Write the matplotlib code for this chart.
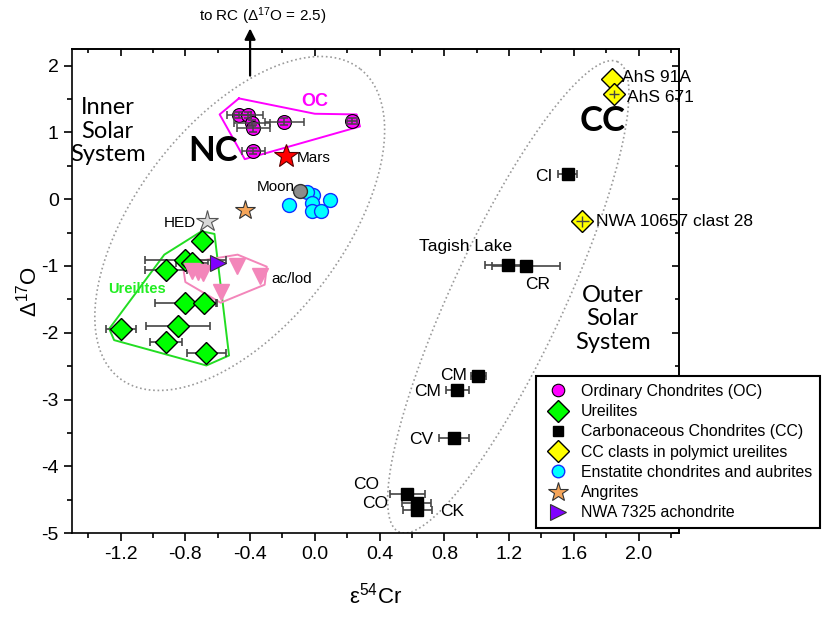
import numpy as np
import matplotlib
matplotlib.use('Agg')
import matplotlib.pyplot as plt
from matplotlib.lines import Line2D

plt.rcParams['font.family'] = ['Liberation Sans', 'DejaVu Sans']
plt.rcParams['mathtext.fontset'] = 'custom'
plt.rcParams['mathtext.rm'] = 'Liberation Sans'
plt.rcParams['mathtext.it'] = 'Liberation Sans:italic'
plt.rcParams['mathtext.bf'] = 'Liberation Sans:bold'
plt.rcParams['axes.unicode_minus'] = False

# ---------------- data ----------------
oc_x = [-0.47, -0.41, -0.39, -0.38, -0.19, 0.23, -0.38]
oc_y = [1.26, 1.26, 1.14, 1.06, 1.16, 1.17, 0.72]
oc_xerr = [0.075, 0.09, 0.11, 0.10, 0.12, 0.03, 0.07]
oc_yerr = [0.05, 0.05, 0.05, 0.05, 0.05, 0.05, 0.05]

ure_x = [-0.70, -0.80, -0.92, -0.76, -0.80, -0.687, -1.197, -0.846, -0.918, -0.67]
ure_y = [-0.63, -0.91, -1.06, -0.96, -1.56, -1.56, -1.94, -1.90, -2.14, -2.31]
ure_xerr = [0.0, 0.25, 0.13, 0.10, 0.19, 0.08, 0.095, 0.20, 0.10, 0.12]

cc_names = ['CI', 'Tagish Lake', 'CR', 'CM', 'CM', 'CV', 'CO', 'CO', 'CK']
cc_x = [1.562, 1.193, 1.305, 1.011, 0.881, 0.861, 0.572, 0.63, 0.634]
cc_y = [0.38, -0.98, -1.00, -2.64, -2.85, -3.58, -4.41, -4.55, -4.65]
cc_xerr = [0.057, 0.14, 0.21, 0.046, 0.072, 0.092, 0.11, 0.09, 0.09]

clast_names = ['AhS 91A', 'AhS 671', 'NWA 10657 clast 28']
clast_x = [1.837, 1.847, 1.651]
clast_y = [1.80, 1.575, -0.33]
clast_xerr = [0.0, 0.03, 0.04]
clast_yerr = [0.0, 0.06, 0.08]

ec_x = [-0.01, -0.05, -0.02, 0.093, -0.16, -0.02, 0.04]
ec_y = [0.06, 0.11, -0.06, -0.01, -0.09, -0.17, -0.17]

ang_x = [-0.43]
ang_y = [-0.16]

nwa_x = [-0.60]
nwa_y = [-0.95]

aclod_x = [-0.76, -0.72, -0.69, -0.48, -0.34, -0.58]
aclod_y = [-1.08, -1.09, -1.10, -1.00, -1.15, -1.39]

mars_xy = (-0.18, 0.64)
moon_xy = (-0.093, 0.13)
hed_xy = (-0.667, -0.32)

oc_poly = [(-0.469, 1.51), (0.0, 1.28), (0.258, 1.27), (0.279, 1.09), (-0.433, 0.60), (-0.588, 1.27)]
ure_poly = [(-0.70, -0.48), (-0.62, -0.52), (-0.53, -2.34), (-0.67, -2.49), (-1.24, -2.11), (-1.27, -1.94), (-0.93, -0.83)]
aclod_poly = [(-0.817, -0.965), (-0.477, -0.83), (-0.297, -1.01), (-0.31, -1.28), (-0.582, -1.55), (-0.80, -1.24)]

legend_labels = ['Ordinary Chondrites (OC)', 'Ureilites', 'Carbonaceous Chondrites (CC)',
                 'CC clasts in polymict ureilites', 'Enstatite chondrites and aubrites',
                 'Angrites', 'NWA 7325 achondrite']

# ---------------- colors ----------------
C_OC = '#FF00FF'
C_URE = '#00FF00'
C_CLAST = '#FFFF00'
C_EC = '#00FFFF'
C_ANG = '#F5A55A'
C_NWA = '#8000FF'
C_PINK = '#F386BA'
C_ERR = '#444444'

fig = plt.figure(figsize=(8.26, 6.17), dpi=100)
ax = fig.add_axes([0.0872, 0.136, 0.7349, 0.7846])
ax.set_xlim(-1.5, 2.25)
ax.set_ylim(-5, 2.25)


def ellipse(c, u, v):
    t = np.linspace(0, 2 * np.pi, 400)
    return (c[0] + u[0] * np.cos(t) + v[0] * np.sin(t),
            c[1] + u[1] * np.cos(t) + v[1] * np.sin(t))

ex, ey = ellipse((-0.464, -0.363), (0.744, 2.315), (-0.498, 0.946))
ax.plot(ex, ey, ls=':', color='#9a9a9a', lw=1.2, zorder=1)
ex, ey = ellipse((1.195, -1.462), (0.676, 3.52), (-0.314, 0.357))
ax.plot(ex, ey, ls=':', color='#9a9a9a', lw=1.2, zorder=1)

# polygons
for poly, col in [(oc_poly, C_OC), (ure_poly, '#22DD22'), (aclod_poly, C_PINK)]:
    px = [p[0] for p in poly] + [poly[0][0]]
    py = [p[1] for p in poly] + [poly[0][1]]
    ax.plot(px, py, color=col, lw=1.4, zorder=2)

# ureilites
ax.errorbar(ure_x, ure_y, xerr=ure_xerr, fmt='none', ecolor=C_ERR, elinewidth=1.2,
            capsize=3, capthick=1.2, zorder=3)
ax.plot(ure_x, ure_y, 'D', ms=11.5, mfc=C_URE, mec='k', mew=1.0, ls='none', zorder=4)

# ac/lod
ax.plot(aclod_x, aclod_y, 'v', ms=11.5, mfc=C_PINK, mec=C_PINK, ls='none', zorder=5)

# NWA 7325
ax.plot(nwa_x, nwa_y, '>', ms=11, mfc=C_NWA, mec='#333333', mew=0.8, ls='none', zorder=5)

# OC
ax.plot(oc_x, oc_y, 'o', ms=10, mfc=C_OC, mec='k', mew=0.8, ls='none', zorder=4)
ax.errorbar(oc_x, oc_y, xerr=oc_xerr, yerr=oc_yerr, fmt='none', ecolor=C_ERR,
            elinewidth=1.1, capsize=3, capthick=1.1, zorder=5)

# Enstatite chondrites
ax.plot(ec_x, ec_y, 'o', ms=10, mfc=C_EC, mec='#1030FF', mew=1.0, ls='none', zorder=4)
ax.plot([moon_xy[0]], [moon_xy[1]], 'o', ms=10, mfc='#8c8c8c', mec='#333333', mew=1.0, zorder=5)

# stars
ax.plot([mars_xy[0]], [mars_xy[1]], '*', ms=18, mfc='#FF0000', mec='#550000', mew=0.8, zorder=5)
ax.plot(ang_x, ang_y, '*', ms=15, mfc=C_ANG, mec='#333333', mew=0.8, ls='none', zorder=5)
ax.plot([hed_xy[0]], [hed_xy[1]], '*', ms=16, mfc='#D8D8D8', mec='#555555', mew=0.8, zorder=5)

# CC
ax.errorbar(cc_x, cc_y, xerr=cc_xerr, fmt='none', ecolor=C_ERR, elinewidth=1.2,
            capsize=3, capthick=1.2, zorder=3)
ax.plot(cc_x, cc_y, 's', ms=8, mfc='k', mec='k', ls='none', zorder=4)

# clasts
ax.plot(clast_x, clast_y, 'D', ms=11.5, mfc=C_CLAST, mec='k', mew=1.0, ls='none', zorder=4)
ax.errorbar(clast_x, clast_y, xerr=clast_xerr, yerr=clast_yerr, fmt='none', ecolor=C_ERR,
            elinewidth=1.0, capsize=0, zorder=5)

# ---------------- labels ----------------
ax.text(-1.28, 1.02, 'Inner\nSolar\nSystem', family=['Lato', 'DejaVu Sans'], fontsize=17,
        ha='center', va='center', linespacing=1.15)
ax.text(1.84, -1.79, 'Outer\nSolar\nSystem', family=['Lato', 'DejaVu Sans'], fontsize=17,
        ha='center', va='center', linespacing=1.15)
ax.text(-0.63, 0.72, 'NC', family=['Lato', 'DejaVu Sans'], fontweight='bold', fontsize=25,
        ha='center', va='center')
ax.text(1.777, 1.17, 'CC', family=['Lato', 'DejaVu Sans'], fontweight='bold', fontsize=25,
        ha='center', va='center')
ax.text(0.0, 1.47, 'OC', color=C_OC, fontweight='bold', fontsize=13, ha='center', va='center')
ax.text(-1.10, -1.34, 'Ureilites', color='#22EE22', fontweight='bold', fontsize=10.5,
        ha='center', va='center')
ax.text(-0.11, 0.61, 'Mars', fontsize=11, ha='left', va='center')
ax.text(-0.124, 0.19, 'Moon', fontsize=11, ha='right', va='center')
ax.text(-0.737, -0.36, 'HED', fontsize=11, ha='right', va='center')
ax.text(-0.266, -1.19, 'ac/lod', fontsize=11, ha='left', va='center')

cc_label_pos = [(1.466, 0.34, 'right'), (0.929, -0.71, 'center'), (1.375, -1.28, 'center'),
                (0.94, -2.64, 'right'), (0.78, -2.88, 'right'), (0.73, -3.60, 'right'),
                (0.40, -4.27, 'right'), (0.45, -4.55, 'right'), (0.774, -4.67, 'left')]
for name, (tx, ty, ha) in zip(cc_names, cc_label_pos):
    ax.text(tx, ty, name, fontsize=12.5, ha=ha, va='center')

clast_label_pos = [(1.90, 1.82), (1.926, 1.52), (1.734, -0.33)]
for name, (tx, ty) in zip(clast_names, clast_label_pos):
    ax.text(tx, ty, name, fontsize=12.5, ha='left', va='center')

# arrow to RC
ax.annotate('', xy=(-0.40, 2.60), xytext=(-0.40, 1.81),
            arrowprops=dict(arrowstyle='-|>', color='k', lw=1.6, mutation_scale=16),
            annotation_clip=False)
ax.text(-0.32, 2.74, 'to RC (Δ$^{17}$O = 2.5)', fontsize=11, ha='center', va='center',
        clip_on=False)

# ---------------- axes ----------------
ax.set_xticks(np.round(np.arange(-1.2, 2.01, 0.4), 1))
ax.set_xticks(np.round(np.arange(-1.4, 2.21, 0.2), 1), minor=True)
ax.set_xticklabels([f'{v:.1f}' for v in np.arange(-1.2, 2.01, 0.4)])
ax.set_yticks(np.arange(-5, 3, 1))
ax.set_yticks(np.arange(-5, 2.01, 0.5), minor=True)
ax.tick_params(which='major', direction='out', length=6, width=1.2, labelsize=14)
ax.tick_params(which='minor', direction='out', length=3.5, width=1.2)
for s in ax.spines.values():
    s.set_linewidth(1.2)

secx = ax.secondary_xaxis('top')
secx.set_xticks(np.round(np.arange(-1.2, 2.01, 0.4), 1))
secx.set_xticks(np.round(np.arange(-1.4, 2.21, 0.2), 1), minor=True)
secx.tick_params(which='major', direction='in', length=5, width=1.2, labeltop=False)
secx.tick_params(which='minor', direction='in', length=3, width=1.2)
secx.spines['top'].set_linewidth(1.2)
secy = ax.secondary_yaxis('right')
secy.set_yticks(np.arange(-5, 3, 1))
secy.set_yticks(np.arange(-5, 2.01, 0.5), minor=True)
secy.tick_params(which='major', direction='in', length=5, width=1.2, labelright=False)
secy.tick_params(which='minor', direction='in', length=3, width=1.2)
secy.spines['right'].set_linewidth(1.2)

ax.set_xlabel('ε$^{54}$Cr', fontsize=16, labelpad=14)
ax.set_ylabel('Δ$^{17}$O', fontsize=16, labelpad=0)

# legend
handles = [
    Line2D([], [], ls='none', marker='o', ms=9, mfc=C_OC, mec='k', mew=0.8),
    Line2D([], [], ls='none', marker='D', ms=11, mfc=C_URE, mec='k', mew=1.0),
    Line2D([], [], ls='none', marker='s', ms=7, mfc='k', mec='k'),
    Line2D([], [], ls='none', marker='D', ms=11, mfc=C_CLAST, mec='k', mew=1.0),
    Line2D([], [], ls='none', marker='o', ms=9, mfc=C_EC, mec='#1030FF', mew=1.0),
    Line2D([], [], ls='none', marker='*', ms=15, mfc=C_ANG, mec='#333333', mew=0.8),
    Line2D([], [], ls='none', marker='>', ms=12, mfc=C_NWA, mec='#333333', mew=0.8),
]
leg = ax.legend(handles, legend_labels, loc='lower left', bbox_to_anchor=(0.764, 0.010),
                fontsize=11.4, frameon=True, fancybox=False, edgecolor='k', framealpha=1,
                borderpad=0.5, labelspacing=0.33, handlelength=1.8, handletextpad=0.55,
                borderaxespad=0)
leg.get_frame().set_linewidth(1.5)
leg.set_zorder(10)

fig.savefig('out.png', dpi=100)
